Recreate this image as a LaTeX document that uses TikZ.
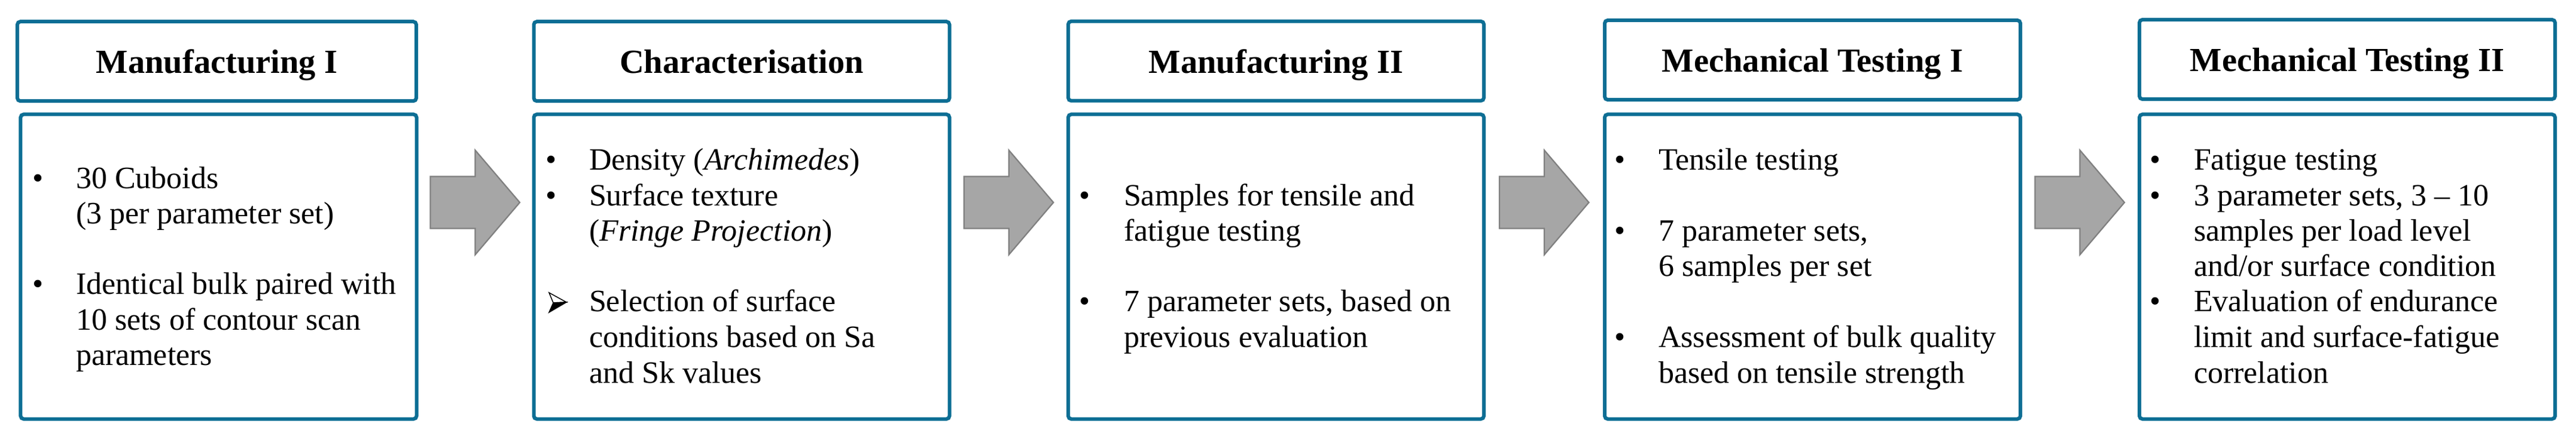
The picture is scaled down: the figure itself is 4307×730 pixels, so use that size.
\documentclass[tikz,border=0pt]{standalone}
\usepackage{fontspec}
\setmainfont{Liberation Serif}
\usetikzlibrary{calc}
\definecolor{boxblue}{RGB}{12,110,148}
\definecolor{arrfill}{RGB}{166,166,166}
\definecolor{arrline}{RGB}{128,128,128}
\newcommand\bodyfont{\fontsize{10.4pt}{11.8pt}\selectfont}
\newcommand\titlefont{\fontsize{11.3pt}{13pt}\selectfont\bfseries}
\newcommand\bodyline[4]{\node[txt] (#1) at (#2,#3) {#4};}
\newcommand\bodybullet[3]{\node[bul] (#1) at (#2,#3) {\textbullet};}
\begin{document}
\begin{tikzpicture}[x=0.2pt,y=-0.2pt,
  box/.style={draw=boxblue,line width=1.2pt,rounded corners=1pt,inner sep=0pt,outer sep=0pt,rectangle},
  titlebox/.style={box,font=\titlefont,text height=8pt,text depth=0pt,minimum height=26.6pt},
  bodybox/.style={box,minimum height=102pt},
  txt/.style={anchor=base west,inner sep=0pt,font=\bodyfont},
  bul/.style={anchor=base,inner sep=0pt,font=\bodyfont},
  blockarrow/.pic={\draw[fill=arrfill,draw=arrline,line width=0.45pt,line join=miter]
     (-75,-43.5) -- (0,-43.5) -- (0,-87.5) -- (74.5,0) -- (0,87.5) -- (0,43.5) -- (-75,43.5) -- cycle;}]
\useasboundingbox (0,0) rectangle (4307,730);

% title boxes
\node[titlebox,minimum width=133.4pt] (T1) at (362.5,102.7) {Manufacturing I};
\node[titlebox,minimum width=139pt] (T2) at (1240,102.7) {Characterisation};
\node[titlebox,minimum width=139pt] (T3) at (2133.5,102.2) {Manufacturing II};
\node[titlebox,minimum width=139pt] (T4) at (3030.5,100.5) {Mechanical Testing I};
\node[titlebox,minimum width=139pt] (T5) at (3924.5,99.5) {Mechanical Testing II};

% body boxes
\node[bodybox,minimum width=132.4pt] (B1) at (365.5,446.5) {};
\node[bodybox,minimum width=139pt] (B2) at (1240,446.5) {};
\node[bodybox,minimum width=139pt] (B3) at (2133.5,446.5) {};
\node[bodybox,minimum width=139pt] (B4) at (3030.5,446.5) {};
\node[bodybox,minimum width=139pt] (B5) at (3924.5,446.5) {};

% block arrows
\pic (A1) at ($(B1.east)!0.5!(B2.west)+(0,-107.5)$) {blockarrow};
\pic (A2) at ($(B2.east)!0.5!(B3.west)+(0,-107.5)$) {blockarrow};
\pic (A3) at ($(B3.east)!0.5!(B4.west)+(0,-107.5)$) {blockarrow};
\pic (A4) at ($(B4.east)!0.5!(B5.west)+(0,-107.5)$) {blockarrow};

% box 1
\bodybullet{p1a}{64}{316}
\bodyline{l1a}{126}{316}{30 Cuboids}
\bodyline{l1b}{126}{375}{(3 per parameter set)}
\bodybullet{p1b}{64}{493}
\bodyline{l1c}{126}{493}{Identical bulk paired with}
\bodyline{l1d}{126}{553}{10 sets of contour scan}
\bodyline{l1e}{126}{612}{parameters}

% box 2
\bodybullet{p2a}{922}{285}
\bodyline{l2a}{984}{285}{Density (\textit{Archimedes})}
\bodybullet{p2b}{922}{344.5}
\bodyline{l2b}{984}{344.5}{Surface texture}
\bodyline{l2c}{984}{404}{(\textit{Fringe Projection})}
\coordinate (sel) at (918,522);
\draw[line width=0.3pt,fill=white,line join=miter] ($(sel)+(0,-32)$) -- ($(sel)+(29,-16)$) -- ($(sel)+(7,-15)$) -- cycle;
\draw[line width=0.3pt,fill=black,line join=miter] ($(sel)+(7,-15)$) -- ($(sel)+(29,-16)$) -- ($(sel)+(0,1)$) -- cycle;
\bodyline{l2d}{984}{522}{Selection of surface}
\bodyline{l2e}{984}{582}{conditions based on Sa}
\bodyline{l2f}{984}{641.5}{and Sk values}

% box 3
\bodybullet{p3a}{1814}{345}
\bodyline{l3a}{1878}{345}{Samples for tensile and}
\bodyline{l3b}{1878}{404}{fatigue testing}
\bodybullet{p3b}{1814}{522}
\bodyline{l3c}{1878}{522}{7 parameter sets, based on}
\bodyline{l3d}{1878}{582}{previous evaluation}

% box 4
\bodybullet{p4a}{2709}{285}
\bodyline{l4a}{2772}{285}{Tensile testing}
\bodybullet{p4b}{2709}{404}
\bodyline{l4b}{2772}{404}{7 parameter sets,}
\bodyline{l4c}{2772}{463}{6 samples per set}
\bodybullet{p4c}{2709}{582}
\bodyline{l4d}{2772}{582}{Assessment of bulk quality}
\bodyline{l4e}{2772}{641.5}{based on tensile strength}

% box 5
\bodybullet{p5a}{3604}{285}
\bodyline{l5a}{3667}{285}{Fatigue testing}
\bodybullet{p5b}{3604}{344.5}
\bodyline{l5b}{3667}{344.5}{3 parameter sets, 3 \textendash{} 10}
\bodyline{l5c}{3667}{404}{samples per load level}
\bodyline{l5d}{3667}{463}{and/or surface condition}
\bodybullet{p5c}{3604}{522}
\bodyline{l5e}{3667}{522}{Evaluation of endurance}
\bodyline{l5f}{3667}{582}{limit and surface-fatigue}
\bodyline{l5g}{3667}{641.5}{correlation}
\end{tikzpicture}
\end{document}
